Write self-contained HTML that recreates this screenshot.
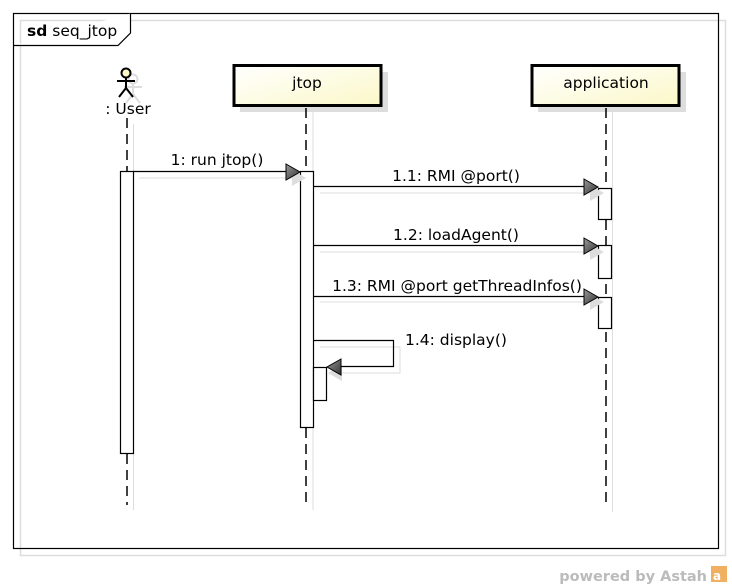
<!DOCTYPE html>
<html><head><style>body{margin:0;background:#fff}svg{display:block}text{font-family:"DejaVu Sans","Liberation Sans",sans-serif;font-size:15.5px;fill:#000}</style></head><body>
<svg width="732" height="588" viewBox="0 0 732 588" xmlns="http://www.w3.org/2000/svg">
<defs>
<linearGradient id="box" x1="0" y1="0" x2="1" y2="1"><stop offset="0" stop-color="#fff"/><stop offset="1" stop-color="#fbf8c8"/></linearGradient>
<linearGradient id="ar" x1="0" y1="0" x2="1" y2="1"><stop offset="0" stop-color="#999"/><stop offset="1" stop-color="#333"/></linearGradient>
<g id="ah"><polygon points="0,-8 14,0 0,8" fill="url(#ar)" stroke="#000" stroke-width="1"/></g>
<g id="ahs"><polygon points="0,-8 14,0 0,8" fill="#ddd"/></g>
</defs>
<rect x="20.5" y="20.5" width="705" height="535" fill="none" stroke="#ddd" stroke-width="1.5"/>
<rect x="13.5" y="13.5" width="705" height="535" fill="none" stroke="#000" stroke-width="1.2"/>
<path d="M13.5 45.5 H118 L130.5 33 V13.5" fill="#fff" stroke="#000" stroke-width="1.2"/>
<text x="27" y="36" style="font-size:15.5px"><tspan font-weight="bold">sd</tspan> seq_jtop</text>
<!-- actor -->
<g stroke="#ddd" stroke-width="2" fill="none"><circle cx="133" cy="79" r="4.5"/><line x1="133" y1="84" x2="133" y2="94"/><line x1="124" y1="87" x2="142" y2="87"/><line x1="133" y1="94" x2="126" y2="103"/><line x1="133" y1="94" x2="140" y2="103"/></g>
<g stroke="#000" stroke-width="2" fill="none"><circle cx="126" cy="73" r="4.5" fill="#fbf8c8"/><line x1="126" y1="78" x2="126" y2="88"/><line x1="117" y1="81" x2="135" y2="81"/><line x1="126" y1="88" x2="119" y2="97"/><line x1="126" y1="88" x2="133" y2="97"/></g>
<text x="128" y="114" text-anchor="middle">: User</text>
<!-- boxes -->
<rect x="240" y="72" width="148" height="40" fill="#ddd"/>
<rect x="234" y="65.5" width="147" height="40" fill="url(#box)" stroke="#000" stroke-width="3"/>
<text x="307" y="88" text-anchor="middle">jtop</text>
<rect x="538" y="72" width="148" height="40" fill="#ddd"/>
<rect x="532" y="65.5" width="147" height="40" fill="url(#box)" stroke="#000" stroke-width="3"/>
<text x="606" y="88" text-anchor="middle">application</text>
<!-- lifelines -->
<g stroke="#ddd" stroke-width="1"><line x1="133.5" y1="124" x2="133.5" y2="510"/><line x1="313" y1="112" x2="313" y2="510"/><line x1="612.5" y1="112" x2="612.5" y2="512"/></g>
<g stroke="#000" stroke-width="1.5" stroke-dasharray="10,6"><line x1="127" y1="118" x2="127" y2="505"/><line x1="306" y1="108" x2="306" y2="505"/><line x1="606" y1="108" x2="606" y2="505"/></g>
<!-- activations -->
<g fill="#fff" stroke="#000" stroke-width="1.2">
<rect x="120.5" y="171.5" width="13" height="282"/>
<rect x="300.5" y="171.5" width="13" height="256"/>
<rect x="598.5" y="188.5" width="13" height="31"/>
<rect x="598.5" y="245.5" width="13" height="33"/>
<rect x="598.5" y="297.5" width="13" height="31"/>
<rect x="313.5" y="367.5" width="13" height="33"/>
</g>
<!-- message shadows -->
<g stroke="#ddd" stroke-width="1" fill="none">
<line x1="139" y1="178" x2="292" y2="178"/>
<line x1="320" y1="193" x2="590" y2="193"/>
<line x1="320" y1="252" x2="590" y2="252"/>
<line x1="320" y1="302" x2="590" y2="302"/>
<polyline points="320,347 400,347 400,373 334,373"/>
</g>
<use href="#ahs" x="292" y="178"/><use href="#ahs" x="590" y="193"/><use href="#ahs" x="590" y="252"/><use href="#ahs" x="590" y="302"/>
<polygon points="342,365 328,373 342,381" fill="#ddd"/>
<!-- messages -->
<g stroke="#000" stroke-width="1.2" fill="none">
<line x1="133" y1="171.5" x2="287" y2="171.5"/>
<line x1="313" y1="186.5" x2="585" y2="186.5"/>
<line x1="313" y1="245.5" x2="585" y2="245.5"/>
<line x1="313" y1="296.5" x2="585" y2="296.5"/>
<polyline points="313,340.5 393.5,340.5 393.5,366.5 340,366.5"/>
</g>
<use href="#ah" x="286" y="172"/><use href="#ah" x="584" y="187"/><use href="#ah" x="584" y="246"/><use href="#ah" x="584" y="297"/>
<polygon points="341,359 327,367 341,375" fill="url(#ar)" stroke="#000"/>
<text x="217" y="165" text-anchor="middle">1: run jtop()</text>
<text x="456" y="181" text-anchor="middle">1.1: RMI @port()</text>
<text x="456" y="240" text-anchor="middle">1.2: loadAgent()</text>
<text x="457" y="291" text-anchor="middle">1.3: RMI @port getThreadInfos()</text>
<text x="405" y="345">1.4: display()</text>
<text x="707" y="581" text-anchor="end" style="font-size:14.5px;font-weight:bold;fill:#bbb">powered by Astah</text>
<rect x="711" y="566" width="16" height="16" fill="#f0b060"/>
<text x="713" y="580" style="font-size:12px;fill:#fff;font-weight:bold">a</text>
</svg>
</body></html>
